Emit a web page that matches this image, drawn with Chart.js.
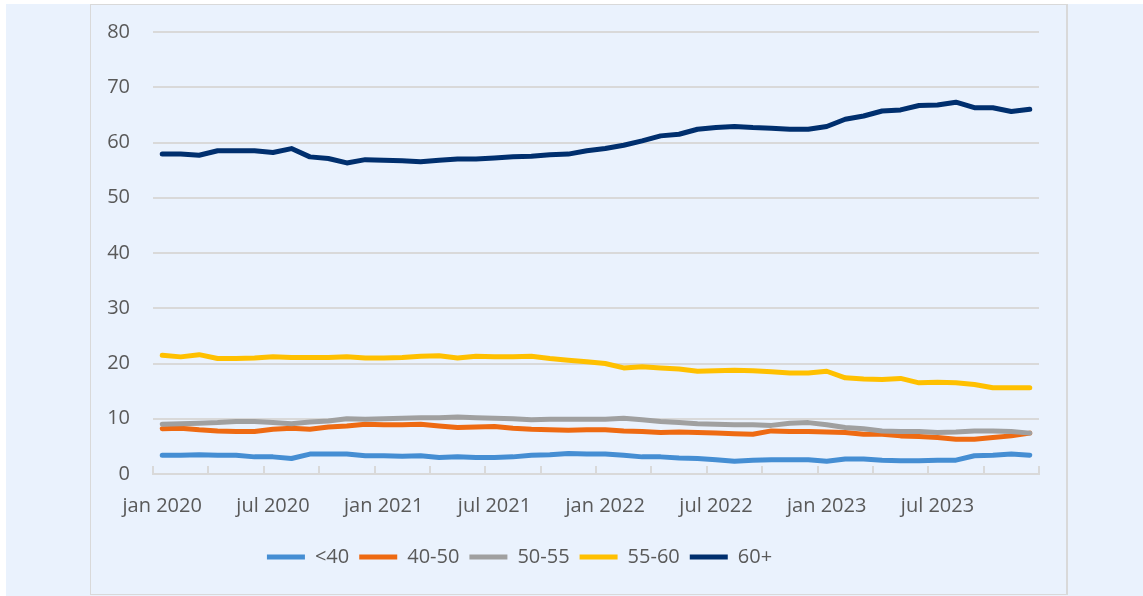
<!DOCTYPE html>
<html>
<head>
<meta charset="utf-8">
<script src="https://cdn.jsdelivr.net/npm/chart.js@4.4.1/dist/chart.umd.min.js"></script>
<style>
    body { margin: 0; background: #ffffff; overflow: hidden; }
    #bg { position: absolute; left: 6px; top: 4px; width: 1137px; height: 592px; background: #eaf2fd; }
    #frame { position: absolute; left: 90px; top: 4px; width: 975px; height: 589px; border: 1px solid #d9d9d9; border-right-width: 2px; }
    #chart { position: absolute; left: 0; top: -3px; }
</style>
</head>
<body>
<div id="bg"></div>
<div id="frame"></div>
<canvas id="chart" width="1143" height="596"></canvas>
<script>
// month labels, jan 2020 - dec 2023
const months = ['jan', 'feb', 'mrt', 'apr', 'mei', 'jun', 'jul', 'aug', 'sep', 'okt', 'nov', 'dec'];
const years = [2020, 2021, 2022, 2023];
const labels = [];
years.forEach(y => months.forEach(m => labels.push(m + ' ' + y)));

const seriesNames = ['<40', '40-50', '50-55', '55-60', '60+'];
const seriesColors = ['#458ed3', '#ee6a12', '#a0a0a0', '#ffc000', '#002f6e'];

const under40 = [3.4, 3.4, 3.5, 3.4, 3.4, 3.1, 3.1, 2.8, 3.6, 3.6, 3.6, 3.3,
    3.3, 3.2, 3.3, 3.0, 3.1, 3.0, 3.0, 3.1, 3.4, 3.5, 3.7, 3.6,
    3.6, 3.4, 3.1, 3.1, 2.9, 2.8, 2.6, 2.3, 2.5, 2.6, 2.6, 2.6,
    2.3, 2.7, 2.7, 2.5, 2.4, 2.4, 2.5, 2.5, 3.3, 3.4, 3.6, 3.4];
const from40to50 = [8.2, 8.3, 8.0, 7.8, 7.7, 7.7, 8.1, 8.3, 8.1, 8.5, 8.7, 9.0,
    8.9, 8.9, 9.0, 8.7, 8.4, 8.5, 8.6, 8.3, 8.1, 8.0, 7.9, 8.0,
    8.0, 7.8, 7.7, 7.5, 7.6, 7.5, 7.4, 7.3, 7.2, 7.8, 7.7, 7.7,
    7.6, 7.5, 7.2, 7.2, 6.9, 6.8, 6.6, 6.3, 6.3, 6.6, 6.9, 7.4];
const from50to55 = [9.0, 9.1, 9.2, 9.3, 9.5, 9.5, 9.3, 9.1, 9.4, 9.6, 10.0, 9.9,
    10.0, 10.1, 10.2, 10.2, 10.3, 10.2, 10.1, 10.0, 9.8, 9.9, 9.9, 9.9,
    9.9, 10.1, 9.8, 9.5, 9.3, 9.1, 9.0, 8.9, 8.9, 8.8, 9.2, 9.3,
    8.9, 8.4, 8.2, 7.8, 7.7, 7.7, 7.5, 7.6, 7.8, 7.8, 7.7, 7.4];
const from55to60 = [21.5, 21.2, 21.6, 20.9, 20.9, 21.0, 21.2, 21.1, 21.1, 21.1, 21.2, 21.0,
    21.0, 21.1, 21.3, 21.4, 21.0, 21.3, 21.2, 21.2, 21.3, 20.9, 20.6, 20.3,
    20.0, 19.2, 19.4, 19.2, 19.0, 18.6, 18.7, 18.8, 18.7, 18.5, 18.3, 18.3,
    18.6, 17.4, 17.2, 17.1, 17.3, 16.5, 16.6, 16.5, 16.2, 15.6, 15.6, 15.6];
const over60 = [57.9, 57.9, 57.7, 58.5, 58.5, 58.5, 58.2, 58.9, 57.4, 57.1, 56.3, 56.9,
    56.8, 56.7, 56.5, 56.8, 57.0, 57.0, 57.2, 57.4, 57.5, 57.8, 57.9, 58.5,
    58.9, 59.5, 60.3, 61.2, 61.5, 62.4, 62.7, 62.9, 62.7, 62.6, 62.4, 62.4,
    62.9, 64.2, 64.8, 65.7, 65.9, 66.7, 66.8, 67.3, 66.3, 66.3, 65.6, 66.0];

const seriesValues = [under40, from40to50, from50to55, from55to60, over60];

const yTicks = [0, 10, 20, 30, 40, 50, 60, 70, 80];

const textColor = '#595959';
const gridColor = '#d9d9d9';
const font = { family: '"Open Sans", sans-serif', size: 20 };

const datasets = seriesNames.map((name, i) => ({
    label: name,
    data: seriesValues[i],
    borderColor: seriesColors[i],
    backgroundColor: seriesColors[i],
    borderWidth: 5,
    borderCapStyle: 'round',
    borderJoinStyle: 'round',
    pointRadius: 0,
    pointHoverRadius: 0,
    tension: 0,
    order: seriesNames.length - i
}));

new Chart(document.getElementById('chart'), {
    type: 'line',
    data: { labels: labels, datasets: datasets },
    options: {
        responsive: false,
        animation: false,
        layout: { padding: { left: 0, right: 104, top: 28, bottom: 16 } },
        plugins: {
            tooltip: { enabled: false },
            legend: {
                position: 'bottom',
                labels: {
                    usePointStyle: true,
                    pointStyle: 'line',
                    pointStyleWidth: 38,
                    padding: 10,
                    color: textColor,
                    font: font,
                    sort: (a, b) => a.datasetIndex - b.datasetIndex
                }
            }
        },
        scales: {
            x: {
                type: 'category',
                offset: true,
                afterFit: scale => { scale.height = scale.height - 9; },
                grid: {
                    offset: true,
                    drawOnChartArea: false,
                    drawTicks: true,
                    tickLength: -8,
                    lineWidth: 2,
                    color: ctx => (ctx.index === undefined || ctx.index % 3 === 0) ? gridColor : 'rgba(0,0,0,0)'
                },
                border: { display: true, color: gridColor, width: 2 },
                ticks: {
                    autoSkip: false,
                    maxRotation: 0,
                    padding: 28,
                    color: textColor,
                    font: font,
                    callback: function (value, index) {
                        return index % 6 === 0 ? this.getLabelForValue(value) : '';
                    }
                }
            },
            y: {
                min: 0,
                max: 80,
                afterFit: scale => { scale.width = 153; },
                afterBuildTicks: scale => { scale.ticks = yTicks.map(v => ({ value: v })); },
                grid: { color: gridColor, lineWidth: 2, drawTicks: false },
                border: { display: false },
                ticks: { padding: 23, color: textColor, font: font }
            }
        }
    }
});
</script>
</body>
</html>
